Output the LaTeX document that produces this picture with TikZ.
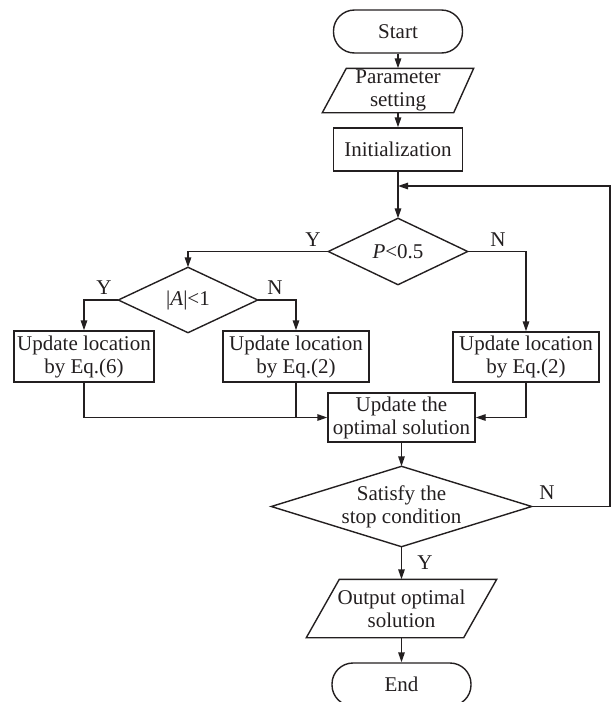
\documentclass[tikz,border=0pt]{standalone}
\usepackage{fontspec}
\setmainfont{Liberation Serif}
\usetikzlibrary{arrows.meta}
\definecolor{ink}{RGB}{35,31,32}
\begin{document}
\begin{tikzpicture}[x=1pt,y=-1pt,line width=1.4pt,draw=ink,
  every node/.style={text=ink},
  txt/.style={inner sep=0pt,align=center,font=\fontsize{21}{23}\selectfont},
  box/.style={txt,draw,rectangle},
  term/.style={box,rounded corners=21pt},
  arr/.style={-{Triangle[length=10pt,width=6.5pt]}},
  lbl/.style={inner sep=0pt,font=\fontsize{21}{23}\selectfont},
  outline/.style={draw=ink,line join=miter}]
\useasboundingbox (0,0) rectangle (611,702);
% nodes
\node[term,minimum width=129pt,minimum height=43pt] (start) at (398,31.5) {Start};
\node[txt,minimum width=150pt,minimum height=43pt] (param) at (398,90.5) {Parameter\\setting};
\draw[outline] ([xshift=24pt]param.north west) -- (param.north east) -- ([xshift=-20pt]param.south east) -- (param.south west) -- cycle;
\node[box,minimum width=129pt,minimum height=43pt] (init) at (398,149.5) {Initialization};
\node[txt,minimum width=138pt,minimum height=65pt] (p) at (398,251.5) {\textit{P}<0.5};
\draw[outline] (p.north) -- (p.east) -- (p.south) -- (p.west) -- cycle;
\node[txt,minimum width=138pt,minimum height=64pt] (a) at (188,300) {|\textit{A}|<1};
\draw[outline] (a.north) -- (a.east) -- (a.south) -- (a.west) -- cycle;
\node[box,minimum width=140pt,minimum height=51pt] (b6) at (84,356.5) {Update location\\by Eq.(6)};
\node[box,minimum width=146pt,minimum height=51pt] (b2a) at (296,356.5) {Update location\\by Eq.(2)};
\node[box,minimum width=146pt,minimum height=50pt] (b2b) at (526,357) {Update location\\by Eq.(2)};
\node[box,minimum width=147pt,minimum height=49pt] (upd) at (401.5,417.5) {Update the\\optimal solution};
\node[txt,minimum width=259pt,minimum height=79pt] (stop) at (401.5,506.5) {Satisfy the\\stop condition};
\draw[outline] (stop.north) -- (stop.east) -- (stop.south) -- (stop.west) -- cycle;
\node[txt,minimum width=189pt,minimum height=57pt] (out) at (401.5,608.5) {Output optimal\\solution};
\draw[outline] ([xshift=33pt]out.north west) -- (out.north east) -- ([xshift=-33pt]out.south east) -- (out.south west) -- cycle;
\node[term,minimum width=139pt,minimum height=43pt] (end) at (401.5,684.5) {End};
\coordinate (join) at (398,186);
\coordinate (rt) at (610,506.5);
% connectors
\draw[arr] (start) -- (param);
\draw[arr] (param) -- (init);
\draw[arr] (init) -- (p);
\draw[arr] (p.west) -| (a.north);
\draw[arr] (p.east) -| (b2b.north);
\draw[arr] (a.west) -| (b6.north);
\draw[arr] (a.east) -| (b2a.north);
\draw[arr] (b6.south) |- (upd.west);
\draw (b2a.south) -- (b2a.south |- upd.west);
\draw[arr] (b2b.south) |- (upd.east);
\draw[arr] (upd) -- (stop.north);
\draw[arr] (stop.south) -- (out.north);
\draw[arr] (out.south) -- (end);
\draw[arr] (stop.east) -- (rt) |- (join);
% labels
\node[lbl] at (313,240) {Y};
\node[lbl] at (498,240) {N};
\node[lbl] at (104,288) {Y};
\node[lbl] at (275,288) {N};
\node[lbl] at (547,493) {N};
\node[lbl] at (425,563) {Y};
\end{tikzpicture}
\end{document}
